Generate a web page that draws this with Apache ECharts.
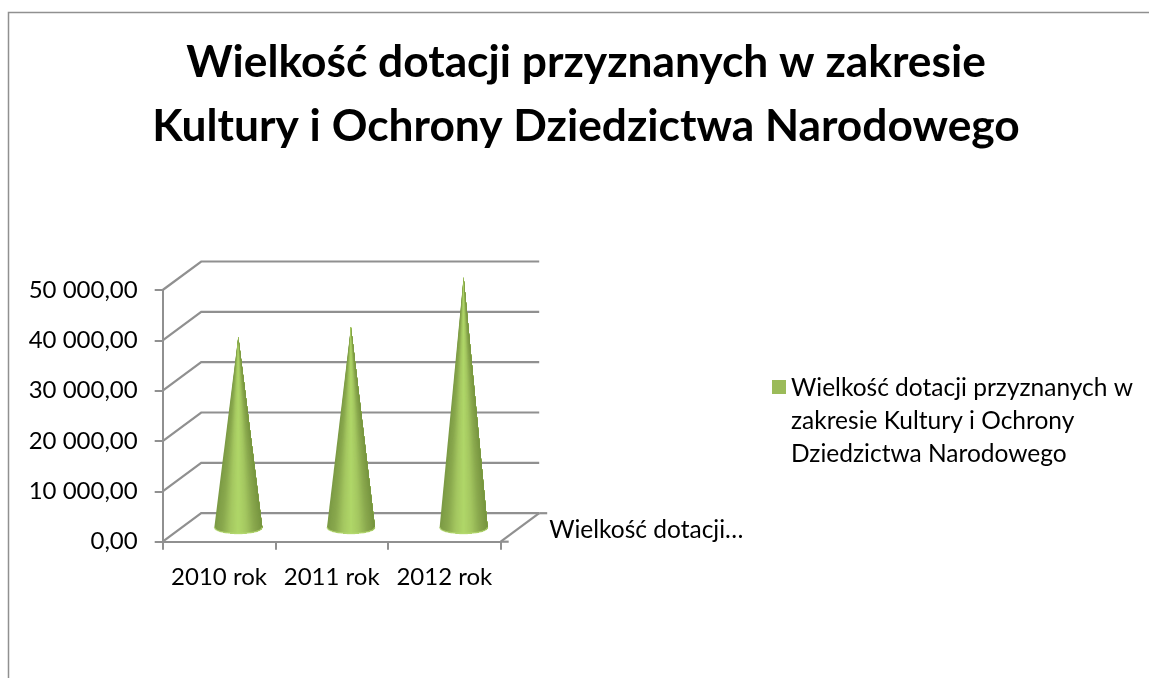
<!DOCTYPE html>
<html><head><meta charset="utf-8">
<style>html,body{margin:0;padding:0;background:#fff}#c{width:1149px;height:678px}</style>
<script src="https://cdn.jsdelivr.net/npm/echarts@6/dist/echarts.min.js"></script>
</head><body><div id="c"></div>
<script>
const categories = ['2010 rok', '2011 rok', '2012 rok'];
const values = [37900, 39800, 49700];
const yTicks = [0, 10000, 20000, 30000, 40000, 50000];
const titleText = 'Wielkość dotacji przyznanych w zakresie\nKultury i Ochrony Dziedzictwa Narodowego';
const seriesName = 'Wielkość dotacji przyznanych w zakresie Kultury i Ochrony Dziedzictwa Narodowego';
const legendText = 'Wielkość dotacji przyznanych w\nzakresie Kultury i Ochrony\nDziedzictwa Narodowego';
const depthLabel = 'Wielkość dotacji…';

const FONT = 'Lato';
const AXIS = '#909090';
const DX = 38.5, DY = -28.5, RX = 24, RY = 6, WEDGES = 40;
const SHADE = ['#7b9a44', '#8aa94e', '#a4c760', '#b0d769', '#a4c760', '#8aa94e', '#76943f'];
const chart = echarts.init(document.getElementById('c'), null, {renderer: 'canvas'});

function wallItem(params, api) {
  const cs = params.coordSys;
  const y = api.coord([0, api.value(1)])[1];
  const x0 = cs.x, x1 = cs.x + cs.width;
  const style = {stroke: AXIS, lineWidth: 2.2, fill: null};
  const children = [{type: 'polyline', shape: {points: [[x0, y], [x0 + DX, y + DY], [x1 + DX, y + DY]]}, style}];
  if (api.value(1) === 0) {
    children.push({type: 'polyline', shape: {points: [[x1, y], [x1 + DX, y + DY]]}, style});
    children.push({type: 'line', shape: {x1: x1, y1: y, x2: x1 + 8, y2: y}, style});
    children.push({type: 'line', shape: {x1: x1 + DX, y1: y + DY, x2: x1 + DX + 8, y2: y + DY}, style});
    children.push({type: 'text', style: {x: x1 + DX + 10, y: y + DY + 17, text: depthLabel, font: '24.5px ' + FONT, fill: '#000', textAlign: 'left', textVerticalAlign: 'middle'}});
  }
  return {type: 'group', children};
}

function rim(u, cx, by) {
  return [cx + RX * u, by + RY * Math.sqrt(Math.max(0, 1 - u * u))];
}

function coneItem(params, api) {
  const base = api.coord([api.value(0), 0]);
  const top = api.coord([api.value(0), api.value(1)]);
  const cx = base[0] + DX / 2, by = base[1] + DY / 2;
  const tip = [cx, top[1] + DY / 2];
  const arc = [];
  for (let i = 0; i <= WEDGES; i++) arc.push(rim(-1 + 2 * i / WEDGES, cx, by));
  const children = [];
  // Painted left to right: each layer covers the rest of the cone, so no seams show.
  for (let i = 0; i < WEDGES; i++) {
    const color = echarts.color.lerp((i + 0.5) / WEDGES, SHADE);
    children.push({
      type: 'polygon', shape: {points: [tip].concat(arc.slice(i))},
      style: {fill: color}
    });
  }
  children.push({
    type: 'polyline', shape: {points: arc},
    style: {stroke: '#b7dc72', lineWidth: 1.5, opacity: 0.7, fill: null}
  });
  return {type: 'group', children};
}

chart.setOption({
  animation: false,
  backgroundColor: '#fff',
  title: {
    text: titleText, left: 581, top: 26, textAlign: 'center',
    textStyle: {fontFamily: FONT, fontWeight: 'bold', fontSize: 44.3, lineHeight: 64, color: '#000'}
  },
  legend: {
    left: 772, top: 371.5, padding: 0, orient: 'vertical', data: [seriesName],
    icon: 'path://M0 0H14V14H0ZM0 82H14', itemWidth: 14, itemHeight: 82, itemGap: 0, selectedMode: false,
    formatter: () => legendText,
    textStyle: {fontFamily: FONT, fontSize: 24.5, lineHeight: 33, color: '#000', padding: [0, 0, 0, 0]}
  },
  grid: {left: 162.7, top: 290, width: 338, height: 251.7},
  xAxis: {
    type: 'category', data: categories,
    axisLine: {lineStyle: {color: AXIS, width: 2}},
    axisTick: {show: true, interval: 0, length: 8, lineStyle: {color: AXIS, width: 2}},
    axisLabel: {interval: 0, hideOverlap: false, fontFamily: FONT, fontSize: 24, color: '#000', margin: 24},
    splitLine: {show: false}
  },
  yAxis: {
    type: 'value', min: 0, max: 50000, interval: 10000,
    axisLine: {show: true, lineStyle: {color: AXIS, width: 2}},
    axisTick: {show: true, length: 8, lineStyle: {color: AXIS, width: 2}},
    axisLabel: {
      fontFamily: FONT, fontSize: 24, color: '#000', margin: 25,
      formatter: v => String(v).replace(/\B(?=(\d{3})+$)/g, ' ') + ',00'
    },
    splitLine: {show: false}
  },
  graphic: [{
    type: 'polyline', silent: true,
    shape: {points: [[8.5, 678], [8.5, 12.5], [1149, 12.5]]},
    style: {stroke: AXIS, lineWidth: 1.5, fill: null}
  }],
  series: [
    {name: 'walls', type: 'custom', silent: true, z: 1, renderItem: wallItem, clip: false,
     encode: {x: 0, y: 1}, data: yTicks.map(v => [0, v])},
    {name: seriesName, type: 'custom', z: 3, renderItem: coneItem, clip: false,
     itemStyle: {color: '#9BBB59'}, encode: {x: 0, y: 1},
     data: values.map((v, i) => [i, v])}
  ]
});
</script></body></html>
